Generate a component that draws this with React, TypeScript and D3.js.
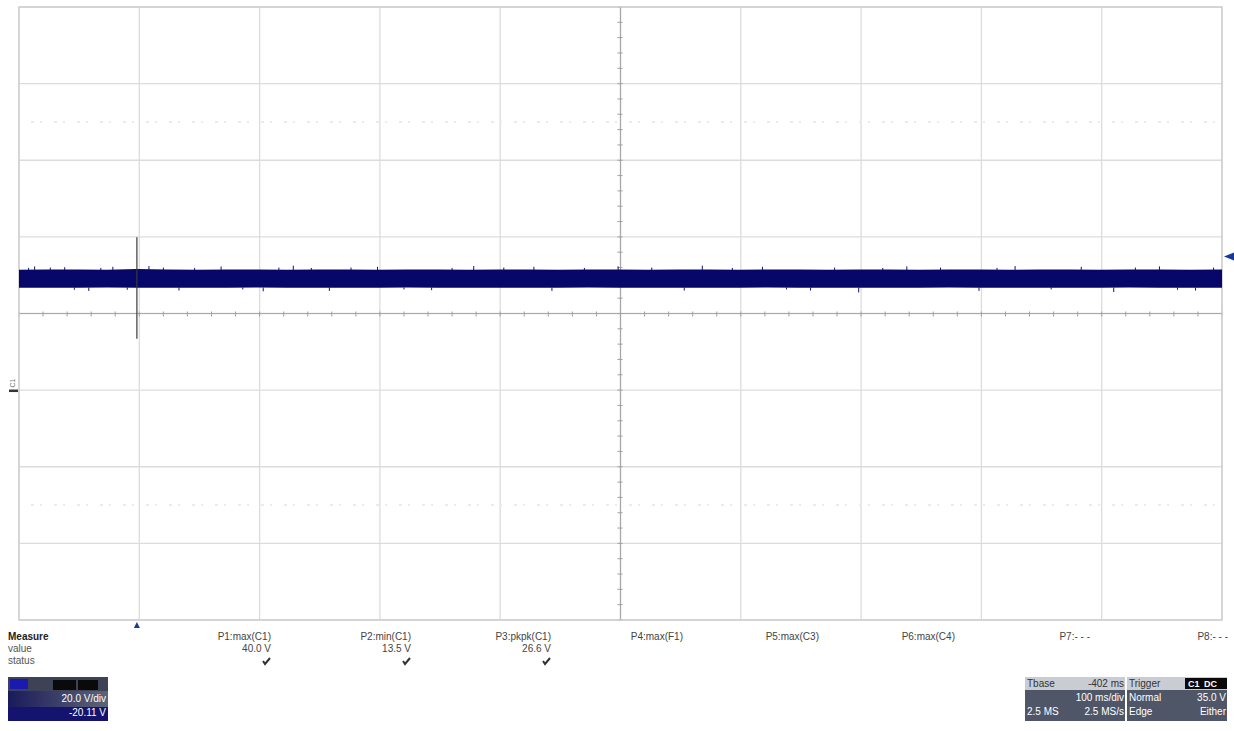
import { useEffect, useRef } from 'react';
import * as d3 from 'd3';

// time axis: trigger at 0 ms, 100 ms/div, delay -402 ms
const timeDomain = [-98, 902];
// volts: 20 V/div, offset -20.11 V -> centre at +20.11 V
const voltDomain = [-59.89, 100.11];

const envTimes = [-98, -75, -50, -25, 0, 25, 50, 75, 100, 125, 150, 175, 200, 225, 250, 275, 300, 325, 350, 375, 400,
  425, 450, 475, 500, 525, 550, 575, 600, 625, 650, 675, 700, 725, 750, 775, 800, 825, 850, 875, 902];
const envUpper = [31.5, 31.6, 31.6, 31.5, 31.7, 31.6, 31.5, 31.6, 31.6, 31.5, 31.6, 31.6, 31.5, 31.6, 31.6, 31.5,
  31.6, 31.6, 31.5, 31.6, 31.6, 31.5, 31.6, 31.6, 31.5, 31.6, 31.6, 31.5, 31.6, 31.6, 31.5, 31.6, 31.6, 31.5, 31.6,
  31.6, 31.5, 31.6, 31.6, 31.5, 31.6];
const envLower = [26.8, 26.8, 26.8, 26.9, 26.8, 26.8, 26.8, 26.8, 26.9, 26.8, 26.8, 26.8, 26.8, 26.9, 26.8, 26.8,
  26.8, 26.8, 26.8, 26.9, 26.8, 26.8, 26.8, 26.8, 26.8, 26.9, 26.8, 26.8, 26.8, 26.8, 26.8, 26.9, 26.8, 26.8, 26.8,
  26.8, 26.8, 26.9, 26.8, 26.8, 26.8];

// small glitches sticking out of the band: [time ms, peak volts]
const glitches = [
  [-90, 32.0], [-85, 32.4], [-72, 32.1], [-60, 32.2], [-52, 26.3], [-40, 26.0], [-30, 32.0], [-20, 32.3],
  [-8, 26.3], [10, 32.5], [22, 32.1], [35, 26.1], [48, 32.0], [70, 32.4], [88, 26.4], [105, 25.9], [118, 32.1],
  [130, 32.6], [145, 32.0], [160, 26.0], [178, 32.1], [200, 32.3], [222, 26.4], [245, 26.2], [262, 32.0],
  [280, 32.5], [305, 32.1], [330, 32.3], [345, 26.0], [372, 32.0], [400, 32.4], [428, 32.1], [455, 26.1],
  [470, 32.6], [495, 32.0], [520, 32.3], [540, 26.4], [560, 26.1], [580, 32.1], [600, 25.6], [620, 32.0],
  [640, 32.4], [668, 32.1], [700, 26.0], [715, 32.0], [730, 32.5], [760, 26.4], [785, 32.3], [812, 25.7],
  [830, 32.1], [850, 32.4], [865, 26.3], [880, 26.1], [895, 32.1],
];

// trigger event spike at t = 0
const spike = { t: 0, min: 13.5, max: 40.0 };
const triggerLevel = 35.0;

const measureNames = ['P1:max(C1)', 'P2:min(C1)', 'P3:pkpk(C1)', 'P4:max(F1)', 'P5:max(C3)', 'P6:max(C4)', 'P7:- - -', 'P8:- - -'];
const measureValues = ['40.0 V', '13.5 V', '26.6 V', '', '', '', '', ''];
const measureOk = [true, true, true, false, false, false, false, false];
const measureRight = [271, 411, 551, 683, 819, 955, 1090, 1228];

export default function App() {
  const ref = useRef<SVGSVGElement>(null);

  useEffect(() => {
    const svg = d3.select(ref.current);
    svg.selectAll('*').remove();
    const W = 1234, H = 731;
    const left = 19, right = 1222, top = 7, bottom = 620;

    const x = d3.scaleLinear().domain(timeDomain).range([left, right]);
    const y = d3.scaleLinear().domain(voltDomain).range([bottom, top]);

    svg.append('rect').attr('width', W).attr('height', H).attr('fill', '#fff');
    const g = svg.append('g');

    // grid
    const xTicks = d3.range(timeDomain[0], timeDomain[1] + 1, 100);
    const yTicks = d3.range(voltDomain[0], voltDomain[1] + 1, 20);
    g.selectAll('.vg').data(xTicks).join('line')
      .attr('x1', d => x(d)).attr('x2', d => x(d)).attr('y1', top).attr('y2', bottom)
      .attr('stroke', '#dcdcdc').attr('stroke-width', 1.3);
    g.selectAll('.hg').data(yTicks).join('line')
      .attr('x1', left).attr('x2', right).attr('y1', d => y(d)).attr('y2', d => y(d))
      .attr('stroke', '#dcdcdc').attr('stroke-width', 1.3);

    // faint dotted rows
    [voltDomain[1] - 30, voltDomain[0] + 30].forEach(v => {
      g.append('line').attr('x1', left + 12).attr('x2', right).attr('y1', y(v)).attr('y2', y(v))
        .attr('stroke', '#ebebeb').attr('stroke-width', 2).attr('stroke-dasharray', '3,6,2,12');
    });

    // centre axes with minor ticks
    const cx = x(402), cy = y(20.11);
    g.append('line').attr('x1', left).attr('x2', right).attr('y1', cy).attr('y2', cy)
      .attr('stroke', '#a8a8a8').attr('stroke-width', 1.2);
    g.append('line').attr('x1', cx).attr('x2', cx).attr('y1', top).attr('y2', bottom)
      .attr('stroke', '#a8a8a8').attr('stroke-width', 1.2);
    g.selectAll('.xm').data(d3.range(timeDomain[0], timeDomain[1] + 0.1, 20)).join('line')
      .attr('x1', d => x(d)).attr('x2', d => x(d)).attr('y1', cy - 2).attr('y2', cy + 3)
      .attr('stroke', '#a0a0a0');
    g.selectAll('.ym').data(d3.range(voltDomain[0], voltDomain[1] + 0.1, 4)).join('line')
      .attr('x1', cx - 3).attr('x2', cx + 2).attr('y1', d => y(d)).attr('y2', d => y(d))
      .attr('stroke', '#a0a0a0');

    // border
    g.append('rect').attr('x', left).attr('y', top).attr('width', right - left).attr('height', bottom - top)
      .attr('fill', 'none').attr('stroke', '#cfcfcf').attr('stroke-width', 1.5);

    // trace band
    const band = envTimes.map((t, i) => ({ t, hi: envUpper[i], lo: envLower[i] }));
    const area = d3.area<{ t: number; hi: number; lo: number }>()
      .x(d => x(d.t)).y0(d => y(d.lo)).y1(d => y(d.hi));
    g.append('path').datum(band).attr('d', area).attr('fill', '#07076a');
    g.selectAll('.gl').data(glitches).join('line')
      .attr('x1', d => x(d[0])).attr('x2', d => x(d[0]))
      .attr('y1', d => y(d[1] > 29 ? 31.4 : 26.9)).attr('y2', d => y(d[1]))
      .attr('stroke', '#14146a').attr('stroke-width', 1);

    // trigger spike
    g.append('line').attr('x1', x(spike.t)).attr('x2', x(spike.t))
      .attr('y1', y(spike.max)).attr('y2', y(spike.min))
      .attr('stroke', '#3a3a3a').attr('stroke-width', 1.2);

    // trigger level marker (right) and trigger time marker (bottom)
    const ty = y(triggerLevel);
    svg.append('path').attr('d', `M1224,${ty} L1234,${ty - 4} L1234,${ty + 4} Z`).attr('fill', '#1a3a9a');
    const tx = x(0);
    svg.append('path').attr('d', `M${tx},${bottom + 2} L${tx - 3},${bottom + 8} L${tx + 3},${bottom + 8} Z`).attr('fill', '#1a3a9a');

    // C1 ground marker
    const gy = y(0);
    svg.append('text').attr('transform', `translate(15,${gy - 3}) rotate(-90)`)
      .attr('font-family', 'Liberation Sans, Arial, sans-serif').attr('font-size', 7).attr('fill', '#777').text('C1');
    svg.append('rect').attr('x', 9).attr('y', gy - 1).attr('width', 9).attr('height', 2.5).attr('fill', '#333');

    // measurement table
    const font = 'Liberation Sans, Arial, sans-serif';
    const txt = (xx: number, yy: number, s: string, anchor = 'start', fill = '#333', weight = 'normal', size = 10) =>
      svg.append('text').attr('x', xx).attr('y', yy).attr('text-anchor', anchor).attr('fill', fill)
        .attr('font-family', font).attr('font-size', size).attr('font-weight', weight).text(s);
    txt(8, 640, 'Measure', 'start', '#222', 'bold');
    txt(8, 652, 'value', 'start', '#555');
    txt(8, 664, 'status', 'start', '#555');
    measureNames.forEach((n, i) => {
      const r = measureRight[i];
      txt(r, 640, n, 'end', '#444');
      if (measureValues[i]) txt(r, 652, measureValues[i], 'end', '#444');
      if (measureOk[i]) {
        svg.append('path').attr('d', `M${r - 8},${661} L${r - 6},${664} L${r - 1},${658}`)
          .attr('fill', 'none').attr('stroke', '#333').attr('stroke-width', 2);
      }
    });

    // channel box
    const defs = svg.append('defs');
    const lg = defs.append('linearGradient').attr('id', 'chg').attr('x1', 0).attr('x2', 1).attr('y1', 0).attr('y2', 0);
    lg.append('stop').attr('offset', '0%').attr('stop-color', '#1a1a5c');
    lg.append('stop').attr('offset', '100%').attr('stop-color', '#5d6476');
    svg.append('rect').attr('x', 8).attr('y', 677).attr('width', 100).attr('height', 44).attr('fill', 'url(#chg)');
    svg.append('rect').attr('x', 8).attr('y', 677).attr('width', 100).attr('height', 14).attr('fill', '#3d4256');
    svg.append('rect').attr('x', 10).attr('y', 679).attr('width', 18).attr('height', 10).attr('fill', '#1a1ab0');
    svg.append('rect').attr('x', 53).attr('y', 680).attr('width', 23).attr('height', 10).attr('fill', '#0a0a0a');
    svg.append('rect').attr('x', 78).attr('y', 680).attr('width', 20).attr('height', 10).attr('fill', '#0a0a0a');
    svg.append('rect').attr('x', 8).attr('y', 707).attr('width', 100).attr('height', 14).attr('fill', '#14146e');
    txt(106, 702, '20.0 V/div', 'end', '#fff');
    txt(106, 716, '-20.11 V', 'end', '#fff');

    // timebase / trigger boxes
    const boxes = [
      { x0: 1025, rows: [['Tbase', '-402 ms'], ['', '100 ms/div'], ['2.5 MS', '2.5 MS/s']] },
      { x0: 1127, rows: [['Trigger', ''], ['Normal', '35.0 V'], ['Edge', 'Either']] },
    ];
    boxes.forEach(b => {
      svg.append('rect').attr('x', b.x0).attr('y', 677).attr('width', 100).attr('height', 44).attr('fill', '#4f5668');
      svg.append('rect').attr('x', b.x0).attr('y', 677).attr('width', 100).attr('height', 13).attr('fill', '#c9ccd3');
      b.rows.forEach((r, i) => {
        const yy = 687 + i * 14;
        const col = i === 0 ? '#333' : '#fff';
        txt(b.x0 + 2, yy, r[0], 'start', col);
        if (r[1]) txt(b.x0 + 99, yy, r[1], 'end', col);
      });
    });
    svg.append('rect').attr('x', 1185).attr('y', 678).attr('width', 42).attr('height', 11).attr('fill', '#0a0a0a');
    txt(1188, 687, 'C1', 'start', '#fff', 'bold', 9);
    txt(1204, 687, 'DC', 'start', '#fff', 'bold', 9);
  }, []);

  return (
    <div style={{ position: 'absolute', left: 0, top: 0 }}>
      <svg ref={ref} width={1234} height={731} />
    </div>
  );
}
